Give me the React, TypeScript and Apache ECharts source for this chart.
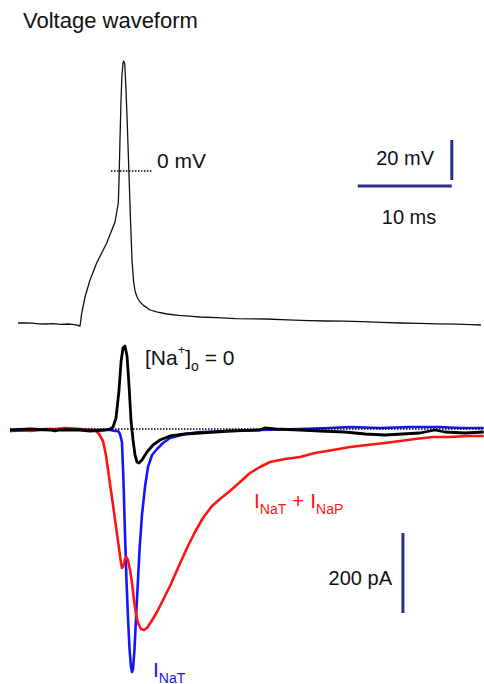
import React, { useEffect, useRef } from 'react';
import * as echarts from 'echarts';

// Time in ms, membrane voltage in mV
const voltageTrace: [number, number][] = [
  [0.85, -76], [1.6, -75.9], [2.4, -76.1], [3.0, -76.4], [3.8, -76.5], [4.6, -76.3], [5.4, -76.7],
  [6.2, -76.5], [6.9, -76.8], [7.45, -77.5], [7.63, -71], [7.98, -63], [8.51, -54.5], [9.22, -46],
  [10.29, -36], [11.17, -25.5], [11.52, -16], [11.6, -4.5], [11.7, 15.5], [11.81, 35.5], [11.91, 48],
  [12.02, 54], [12.1, 55], [12.21, 53.5], [12.34, 40.5], [12.5, 20.5], [12.66, -2], [12.82, -24.5],
  [12.98, -44.5], [13.14, -55], [13.3, -60], [13.51, -63], [13.83, -65.5], [14.2, -67.2], [14.9, -69.5],
  [15.7, -70.6], [16.7, -71.5], [18.0, -72.2], [19.4, -72.7], [20.2, -73], [22.0, -73.3], [24.0, -73.8],
  [26.0, -73.9], [27.3, -74], [29.5, -74.4], [31.8, -74.8], [33.6, -75], [35.5, -75.1], [37.5, -75.3],
  [39.5, -75.7], [41.5, -76], [43.5, -76.2], [45.5, -76.4], [47.5, -76.6], [49.0, -76.8], [50.1, -77],
];

// Time in ms, current in pA
const currentZeroNa: [number, number][] = [
  [0, -2.5], [2.13, 0], [4.26, -2.5], [4.79, -5], [5.3, -2.5], [7.45, -2.5], [8.51, -5], [10.1, -2.5],
  [10.64, 0], [10.96, 5], [11.28, 27.5], [11.6, 97.5], [11.81, 167.5], [12.02, 202.5], [12.23, 207.5],
  [12.45, 182.5], [12.66, 110], [12.87, 22.5], [13.09, -27.5], [13.3, -65], [13.51, -82.5], [13.72, -85],
  [14.04, -77.5], [14.57, -57.5], [15.21, -40], [15.96, -27.5], [17.02, -17.5], [18.62, -12.5],
  [20.21, -10], [23.4, -5], [26.6, -2.5], [27.1, 2.5], [28.2, 0], [30.85, -2.5], [32.98, -5],
  [35.6, -7.5], [37.8, -12.5], [39.9, -15], [43.6, -10], [45.2, -2.5], [46.3, -7.5], [48.4, -10],
  [50.4, -7.5],
];

const currentNaT: [number, number][] = [
  [0, -5], [3.19, -2.5], [6.38, 0], [8.51, -2.5], [10.64, -2.5], [11.17, -5], [11.49, -5], [11.7, -12.5],
  [11.91, -32.5], [12.07, -127.5], [12.23, -260], [12.39, -377.5], [12.55, -470], [12.71, -547.5],
  [12.87, -595], [12.98, -607.5], [13.09, -600], [13.24, -552.5], [13.4, -477.5], [13.56, -402.5],
  [13.78, -302.5], [14.04, -215], [14.36, -145], [14.68, -95], [15.11, -65], [15.64, -50], [16.28, -35],
  [17.02, -22.5], [18.62, -12.5], [20.21, -7.5], [23.4, -5], [26.6, -2.5], [30.85, 0], [34.0, 2.5],
  [36.2, 5], [39.4, 2.5], [42.6, 5], [45.7, 5], [47.9, 2.5], [50.4, 2.5],
];

const currentNaTNaP: [number, number][] = [
  [0, -5], [1.06, -2.5], [2.13, -5], [3.72, 0], [4.79, 0], [5.85, 2.5], [7.45, 0], [8.72, -2.5],
  [9.04, -2.5], [9.47, -12.5], [9.89, -30], [10.21, -65], [10.43, -102.5], [10.64, -137.5],
  [10.96, -190], [11.38, -262], [11.65, -307.5], [11.81, -335], [11.91, -347.5], [12.07, -342.5],
  [12.23, -325], [12.39, -320], [12.55, -327.5], [12.77, -352.5], [12.98, -385], [13.19, -427.5],
  [13.4, -462.5], [13.62, -485], [13.94, -500], [14.26, -502.5], [14.57, -497.5], [15.0, -482.5],
  [15.64, -457.5], [16.28, -427.5], [17.02, -392.5], [17.87, -347.5], [18.83, -297.5], [19.68, -257.5],
  [20.53, -222.5], [21.49, -192.5], [22.34, -175], [23.4, -155], [24.47, -132.5], [25.53, -110],
  [26.6, -95], [27.66, -82.5], [29.26, -75], [30.85, -70], [32.45, -60], [34.36, -52.5], [36.17, -45],
  [37.98, -40], [39.89, -35], [41.49, -30], [43.09, -25], [45.0, -20], [46.8, -20], [48.72, -17.5],
  [50.4, -17.5],
];

// Reference lines and scale bars (axis units)
const zeroMvLine: [number, number][] = [[10.74, 0], [15.21, 0]];
const zeroPaLine: [number, number][] = [[0, 0], [50.4, 0]];
const scaleBarTime: [number, number][] = [[37.0, -7.5], [47.0, -7.5]]; // 10 ms
const scaleBarVoltage: [number, number][] = [[47.0, -4.5], [47.0, 15.5]]; // 20 mV
const scaleBarCurrent: [number, number][] = [[41.8, -260], [41.8, -460]]; // 200 pA

const FONT = '"Liberation Sans", Arial, sans-serif';
const BAR = '#2a2a8f';

function line(data: [number, number][], color: string, width: number, idx: number, z: number, type: any = 'solid') {
  return {
    type: 'line',
    data,
    xAxisIndex: idx,
    yAxisIndex: idx,
    showSymbol: false,
    symbol: 'none',
    silent: true,
    z,
    lineStyle: { color, width, type, cap: 'butt', join: 'round' },
  };
}

function txt(text: string, x: number, y: number, size: number, align = 'left', fill = '#111') {
  return {
    type: 'text',
    silent: true,
    style: {
      text, x, y, fontSize: size, fontFamily: FONT, fill,
      textAlign: align, textVerticalAlign: 'middle', align, verticalAlign: 'middle',
    },
  };
}

function richLabel(text: string, x: number, y: number, fill: string, subLH: number, supLH = 13) {
  const base = { fontFamily: FONT, fill };
  return {
    type: 'text',
    silent: true,
    style: {
      text, x, y, fontSize: 21, fontFamily: FONT, fill,
      textAlign: 'left', textVerticalAlign: 'middle', align: 'left', verticalAlign: 'middle',
      rich: {
        m: { ...base, fontSize: 21, lineHeight: 30 },
        sup: { ...base, fontSize: 13, lineHeight: supLH, verticalAlign: 'top' },
        sub: { ...base, fontSize: 14, lineHeight: subLH, verticalAlign: 'bottom' },
        subo: { ...base, fontSize: 14, lineHeight: subLH, verticalAlign: 'bottom' },
      },
    },
  };
}

export default function App() {
  const ref = useRef<HTMLDivElement>(null);
  useEffect(() => {
    if (!ref.current) return;
    const chart = echarts.init(ref.current, undefined, { renderer: 'svg' });
    chart.setOption({
      animation: false,
      backgroundColor: '#ffffff',
      grid: [
        { left: 10, top: 51, width: 474, height: 280 },
        { left: 10, top: 329, width: 474, height: 350 },
      ],
      xAxis: [
        { type: 'value', gridIndex: 0, min: 0, max: 50.4255, show: false },
        { type: 'value', gridIndex: 1, min: 0, max: 50.4255, show: false },
      ],
      yAxis: [
        { type: 'value', gridIndex: 0, min: -80, max: 60, show: false },
        { type: 'value', gridIndex: 1, min: -625, max: 250, show: false },
      ],
      series: [
        line(voltageTrace, '#111111', 1.3, 0, 2),
        line(zeroMvLine, '#000000', 1.5, 0, 3, 'dotted'),
        line(scaleBarTime, BAR, 3, 0, 2),
        line(scaleBarVoltage, BAR, 3, 0, 2),
        line(currentNaT, '#1414ff', 2.6, 1, 2),
        line(currentNaTNaP, '#ff1414', 2.6, 1, 3),
        line(currentZeroNa, '#000000', 2.8, 1, 4),
        line(zeroPaLine, '#000000', 1.5, 1, 5, 'dotted'),
        line(scaleBarCurrent, BAR, 3, 1, 2),
      ],
      graphic: [
        txt('Voltage waveform', 23, 20.5, 22),
        txt('0 mV', 157, 160, 21),
        txt('20 mV', 434, 158, 20, 'right'),
        txt('10 ms', 409, 216.5, 20, 'center'),
        txt('200 pA', 392, 577.5, 20, 'right'),
        richLabel('{m|[Na}{sup|+}{m|]}{subo|o}{m| = 0}', 145, 357.5, '#111111', 7),
        richLabel('{m|I}{sub|NaT}{m| + I}{sub|NaP}', 254, 500.5, '#ff1414', 13),
        richLabel('{m|I}{sub|NaT}', 153, 669.5, '#1414ff', 13),
      ],
    });
    return () => chart.dispose();
  }, []);
  return (
    <div
      ref={ref}
      style={{ position: 'absolute', left: 0, top: 0, width: 484, height: 684, background: '#fff' }}
    />
  );
}
